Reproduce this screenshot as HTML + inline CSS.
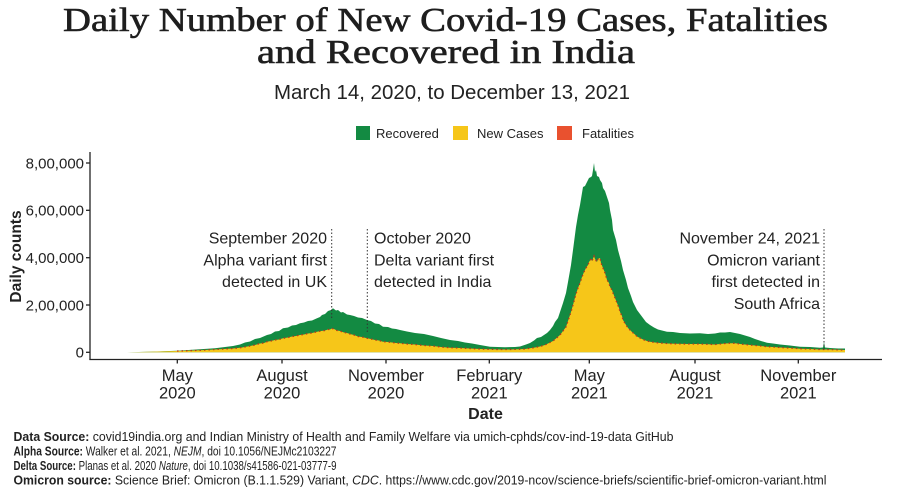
<!DOCTYPE html>
<html>
<head>
<meta charset="utf-8">
<style>
html,body{margin:0;padding:0;background:#fff;}
svg{display:block;}
</style>
</head>
<body>
<svg width="900" height="493" viewBox="0 0 900 493" xmlns="http://www.w3.org/2000/svg">
<rect width="900" height="493" fill="#fff"/>
<!-- Title -->
<g font-family="Liberation Serif, serif" fill="#1e1e1e" stroke="#1e1e1e" stroke-width="0.6">
<text x="63" y="31" font-size="34" textLength="765" lengthAdjust="spacingAndGlyphs">Daily Number of New Covid-19 Cases, Fatalities</text>
<text x="257" y="63" font-size="34" textLength="378" lengthAdjust="spacingAndGlyphs">and Recovered in India</text>
</g>
<text x="274" y="99" font-family="Liberation Sans, sans-serif" font-size="20.5" fill="#222" textLength="356" lengthAdjust="spacingAndGlyphs">March 14, 2020, to December 13, 2021</text>

<!-- Legend -->
<g font-family="Liberation Sans, sans-serif" font-size="13" fill="#222">
<rect x="356" y="126" width="14" height="14" fill="#138a42"/>
<text x="376" y="138">Recovered</text>
<rect x="453" y="126" width="15" height="14" fill="#f6c619"/>
<text x="477" y="138">New Cases</text>
<rect x="557" y="126" width="15" height="14" fill="#e9512f"/>
<text x="582" y="138">Fatalities</text>
</g>

<!-- Data areas -->
<path fill="#138a42" d="M122,352.3 L150,351.8 L177,350.7 L200,349.3 L215,348.3 L233,346 L240,344.5 L245,342.5 L250,341.5 L255,339 L260,338 L267,335 L271,334 L275,331.5 L279,331 L283,328.3 L288,327.5 L292,325.5 L296,325 L300,323.3 L304,322.5 L308,321 L312,320.5 L317,318.3 L320,317 L322,315 L325,314 L328,311 L331,310 L333,308.3 L336,310.5 L338,310 L341,312.5 L343,312 L347,314.5 L350,315 L354,316 L358,317.5 L362,318 L367,320 L371,321 L375,323.5 L379,324 L383,326.7 L388,327 L392,328.5 L396,329 L400,330 L407,331.5 L415,333 L424,334 L433,336 L441,338 L450,340 L458,341 L465,342.5 L472,343.5 L480,345 L490,346.7 L505,347.2 L515,347 L520,346.5 L526,344.5 L530,343 L534,340.5 L537,338 L541,337 L544,335 L547,333 L550,330 L553,326 L555,322 L558,318 L560,312 L563,303 L566,293 L568,282 L571,265 L573,250 L576,227 L578,215 L580,205 L582,193 L583,187 L585,186 L586,184 L588,180 L589,178 L591,177 L592,176 L593,170 L594,163 L595,172 L596,170 L597,176 L599,177 L600,180 L602,183 L603,188 L605,191 L607,197 L609,203 L610,210 L612,220 L613,230 L616,240 L618,250 L621,261 L623,270 L626,280 L628,288 L631,296 L633,302 L635,306 L637,310 L640,314 L643,318 L646,322 L650,325 L654,327.5 L658,329.5 L662,330.5 L667,331.7 L673,332 L680,333 L690,333.5 L700,333.3 L708,334 L715,333.5 L720,332.5 L725,332.5 L730,332 L735,333 L740,334 L745,335.5 L750,337 L755,339 L761,341 L767,342.7 L773,343.5 L780,344.5 L790,345.5 L800,346.7 L810,347 L820,347.7 L823,347.5 L824,342 L825,347.5 L830,348 L838,348.5 L845,348.5 L845,352.3 Z"/>
<path fill="#f6c619" d="M122,352.3 L140,352 L160,351.5 L177,351 L200,350.3 L215,349.5 L233,348.5 L242,347.5 L250,346 L255,345 L260,343.5 L264,343 L267,341.7 L271,341 L275,340 L279,339.5 L283,338.3 L288,337.5 L292,336.5 L296,336 L300,335 L304,334.5 L308,333.5 L312,333 L317,331.7 L321,331 L325,330.5 L328,329.5 L330,329.5 L332,328.5 L334,329 L337,330.5 L340,331 L344,332.5 L347,333 L350,334 L354,335 L358,336.5 L362,337 L367,338.3 L371,339 L375,340 L379,340.5 L383,341.7 L388,342 L392,342.5 L396,343 L400,343.3 L407,344 L415,344.5 L424,345.5 L433,346 L441,347 L450,347.7 L460,348 L470,348.5 L480,349 L490,349.3 L500,349.5 L510,349.5 L518,349.3 L525,349 L530,348.3 L535,347.5 L540,346.5 L545,345 L549,343 L553,341 L556,338.5 L560,335 L563,331 L566,327 L568,321 L571,312 L573,305 L576,294 L578,288 L580,283 L582,277 L584,272 L586,268 L588,265 L589,262 L591,259 L592,261 L594,256 L595,259 L597,262 L598,259 L600,258 L601,263 L603,268 L605,273 L607,280 L609,283 L610,287 L612,290 L613,293 L615,298 L617,303 L619,308 L620,312 L622,316 L623,320 L626,325 L628,328 L630,330 L632,332 L635,334.5 L637,336.5 L640,338 L643,339.5 L647,341 L650,341.7 L655,342.5 L660,343 L667,343.5 L675,343.8 L688,344 L700,344 L708,344.3 L715,344.5 L720,344 L725,343.5 L730,343.2 L735,343.3 L740,344 L745,344.5 L750,345 L755,345.5 L761,346 L767,346.7 L773,347 L780,347.5 L790,348 L800,348.7 L810,349 L820,349.5 L830,349.5 L838,349.8 L845,350 L845,352.3 Z"/>
<!-- Fatalities line -->
<path fill="none" stroke="#b8371c" stroke-width="1.3" stroke-dasharray="1.5 3" d="M177,351 L200,350.3 L215,349.5 L233,348.5 L242,347.5 L250,346 L255,345 L260,343.5 L264,343 L267,341.7 L271,341 L275,340 L279,339.5 L283,338.3 L288,337.5 L292,336.5 L296,336 L300,335 L304,334.5 L308,333.5 L312,333 L317,331.7 L321,331 L325,330.5 L328,329.5 L330,329.5 L332,328.5 L334,329 L337,330.5 L340,331 L344,332.5 L347,333 L350,334 L354,335 L358,336.5 L362,337 L367,338.3 L371,339 L375,340 L379,340.5 L383,341.7 L388,342 L392,342.5 L396,343 L400,343.3 L407,344 L415,344.5 L424,345.5 L433,346 L441,347 L450,347.7 L460,348 L470,348.5 L480,349 L490,349.3 L500,349.5 L510,349.5 L518,349.3 L525,349 L530,348.3 L535,347.5 L540,346.5 L545,345 L549,343 L553,341 L556,338.5 L560,335 L563,331 L566,327 L568,321 L571,312 L573,305 L576,294 L578,288 L580,283 L582,277 L584,272 L586,268 L588,265 L589,262 L591,259 L592,261 L594,256 L595,259 L597,262 L598,259 L600,258 L601,263 L603,268 L605,273 L607,280 L609,283 L610,287 L612,290 L613,293 L615,298 L617,303 L619,308 L620,312 L622,316 L623,320 L626,325 L628,328 L630,330 L632,332 L635,334.5 L637,336.5 L640,338 L643,339.5 L647,341 L650,341.7 L655,342.5 L660,343 L667,343.5 L675,343.8 L688,344 L700,344 L708,344.3 L715,344.5 L720,344 L725,343.5 L730,343.2 L735,343.3 L740,344 L745,344.5 L750,345 L755,345.5 L761,346 L767,346.7 L773,347 L780,347.5 L790,348 L800,348.7 L810,349 L820,349.5 L830,349.5 L838,349.8 L845,350"/>

<!-- Axes -->
<g stroke="#222" stroke-width="1.3" fill="none">
<line x1="90" y1="152" x2="90" y2="360"/>
<line x1="89.4" y1="359.5" x2="882" y2="359.5"/>
<line x1="86" y1="163" x2="90" y2="163"/>
<line x1="86" y1="210.3" x2="90" y2="210.3"/>
<line x1="86" y1="257.7" x2="90" y2="257.7"/>
<line x1="86" y1="305" x2="90" y2="305"/>
<line x1="86" y1="352.3" x2="90" y2="352.3"/>
<line x1="177.3" y1="359.5" x2="177.3" y2="363.5"/>
<line x1="282" y1="359.5" x2="282" y2="363.5"/>
<line x1="386" y1="359.5" x2="386" y2="363.5"/>
<line x1="489.3" y1="359.5" x2="489.3" y2="363.5"/>
<line x1="589.3" y1="359.5" x2="589.3" y2="363.5"/>
<line x1="695" y1="359.5" x2="695" y2="363.5"/>
<line x1="798.3" y1="359.5" x2="798.3" y2="363.5"/>
</g>

<!-- Annotation lines -->
<g stroke="#333" stroke-width="1" stroke-dasharray="1.5 2" fill="none">
<line x1="331.7" y1="229" x2="331.7" y2="320"/>
<line x1="367.3" y1="229" x2="367.3" y2="333"/>
<line x1="824" y1="229" x2="824" y2="350"/>
</g>

<!-- Y tick labels -->
<g font-family="Liberation Sans, sans-serif" font-size="15" fill="#222" text-anchor="end">
<text x="84" y="168.3">8,00,000</text>
<text x="84" y="215.6">6,00,000</text>
<text x="84" y="263">4,00,000</text>
<text x="84" y="310.3">2,00,000</text>
<text x="84" y="357.6">0</text>
</g>
<text transform="translate(21,256.5) rotate(-90)" font-family="Liberation Sans, sans-serif" font-weight="bold" font-size="15.5" fill="#222" text-anchor="middle">Daily counts</text>

<!-- X tick labels -->
<g font-family="Liberation Sans, sans-serif" font-size="16.5" fill="#222" text-anchor="middle">
<text x="177.3" y="381">May</text><text x="177.3" y="398.5">2020</text>
<text x="282" y="381">August</text><text x="282" y="398.5">2020</text>
<text x="386" y="381">November</text><text x="386" y="398.5">2020</text>
<text x="489.3" y="381">February</text><text x="489.3" y="398.5">2021</text>
<text x="589.3" y="381">May</text><text x="589.3" y="398.5">2021</text>
<text x="695" y="381">August</text><text x="695" y="398.5">2021</text>
<text x="798.3" y="381">November</text><text x="798.3" y="398.5">2021</text>
</g>
<text x="485.5" y="419" font-family="Liberation Sans, sans-serif" font-weight="bold" font-size="16" fill="#222" text-anchor="middle">Date</text>

<!-- Annotations -->
<g font-family="Liberation Sans, sans-serif" font-size="16" fill="#222">
<g text-anchor="end">
<text x="327" y="243.5">September 2020</text>
<text x="327" y="265.3">Alpha variant first</text>
<text x="327" y="287">detected in UK</text>
<text x="820" y="243.5">November 24, 2021</text>
<text x="820" y="265.3">Omicron variant</text>
<text x="820" y="287">first detected in</text>
<text x="820" y="309">South Africa</text>
</g>
<text x="374" y="243.5">October 2020</text>
<text x="374" y="265.3">Delta variant first</text>
<text x="374" y="287">detected in India</text>
</g>

<!-- Footer -->
<g font-family="Liberation Sans, sans-serif" font-size="12.5" fill="#222">
<text x="13.5" y="441" textLength="660" lengthAdjust="spacingAndGlyphs"><tspan font-weight="bold">Data Source:</tspan> covid19india.org and Indian Ministry of Health and Family Welfare via umich-cphds/cov-ind-19-data GitHub</text>
<text x="13.5" y="455.5" textLength="323" lengthAdjust="spacingAndGlyphs"><tspan font-weight="bold">Alpha Source:</tspan> Walker et al. 2021, <tspan font-style="italic">NEJM</tspan>, doi 10.1056/NEJMc2103227</text>
<text x="13.5" y="470" textLength="323" lengthAdjust="spacingAndGlyphs"><tspan font-weight="bold">Delta Source:</tspan> Planas et al. 2020 <tspan font-style="italic">Nature</tspan>, doi 10.1038/s41586-021-03777-9</text>
<text x="13.5" y="484.5" textLength="813" lengthAdjust="spacingAndGlyphs"><tspan font-weight="bold">Omicron source:</tspan> Science Brief: Omicron (B.1.1.529) Variant, <tspan font-style="italic">CDC</tspan>. https://www.cdc.gov/2019-ncov/science-briefs/scientific-brief-omicron-variant.html</text>
</g>
</svg>
</body>
</html>
